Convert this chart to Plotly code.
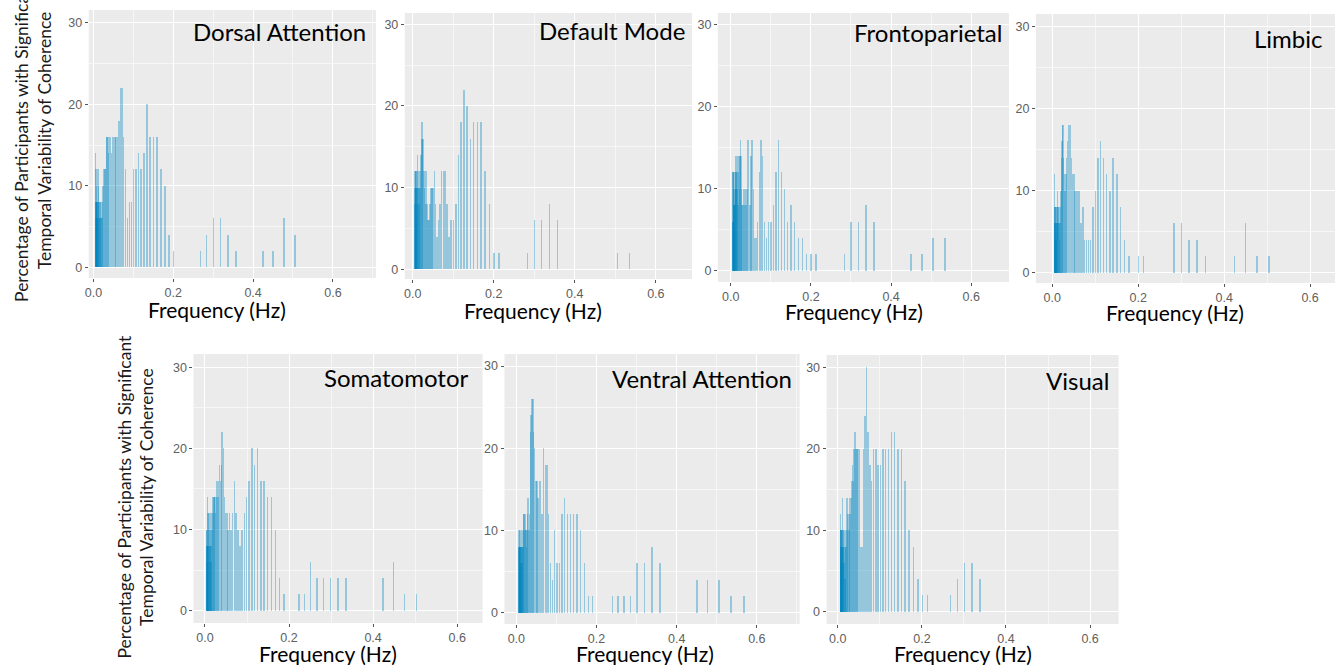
import plotly.graph_objects as go

W, H = 1339, 665

# Shared frequency grid (Hz)
freq_hz = [
    0.0050, 0.0053, 0.0056, 0.0059, 0.0063, 0.0066, 0.0070, 0.0074, 0.0079, 0.0084,
    0.0088, 0.0094, 0.0099, 0.0105, 0.0112, 0.0118, 0.0125, 0.0133, 0.0141, 0.0149,
    0.0158, 0.0167, 0.0177, 0.0188, 0.0199, 0.0211, 0.0223, 0.0236, 0.0250, 0.0265,
    0.0281, 0.0298, 0.0316, 0.0334, 0.0354, 0.0375, 0.0398, 0.0421, 0.0446, 0.0473,
    0.0501, 0.0531, 0.0562, 0.0596, 0.0631, 0.0669, 0.0708, 0.0750, 0.0795, 0.0842,
    0.0892, 0.0945, 0.1002, 0.1061, 0.1124, 0.1191, 0.1262, 0.1337, 0.1416, 0.1501,
    0.1590, 0.1684, 0.1784, 0.1891, 0.2003, 0.2122, 0.2248, 0.2382, 0.2523, 0.2673,
    0.2832, 0.3001, 0.3179, 0.3368, 0.3568, 0.3780, 0.4005, 0.4243, 0.4496, 0.4763,
    0.5046, 0.5346, 0.5664,
]

panel_names = ["Dorsal Attention", "Default Mode", "Frontoparietal", "Limbic",
               "Somatomotor", "Ventral Attention", "Visual"]

# Percentage of participants per frequency
dorsal_attention = [
    14, 8, 6, 8, 12, 8, 10, 8, 6, 8,
    6, 8, 6, 8, 12, 10, 8, 6, 8, 6,
    8, 6, 8, 6, 8, 6, 8, 10, 12, 12,
    12, 12, 16, 16, 16, 14, 16, 16, 14, 16,
    16, 16, 16, 16, 18, 22, 22, 16, 12, 6,
    8, 8, 12, 12, 14, 12, 14, 20, 16, 16,
    16, 12, 10, 4, 2, 0, 0, 0, 0, 2,
    4, 6, 6, 4, 2, 0, 0, 2, 2, 6,
    4, 0, 0,
]
default_mode = [
    12, 10, 8, 12, 6, 10, 8, 12, 10, 6,
    8, 10, 12, 10, 14, 10, 8, 10, 12, 10,
    8, 10, 12, 10, 14, 16, 18, 16, 16, 12,
    10, 12, 8, 12, 8, 6, 6, 8, 10, 10,
    10, 12, 8, 4, 6, 8, 12, 12, 12, 8,
    4, 6, 6, 8, 14, 18, 22, 20, 16, 18,
    18, 18, 12, 8, 2, 2, 0, 0, 0, 0,
    2, 6, 6, 8, 6, 0, 0, 0, 0, 0,
    2, 2, 0,
]
frontoparietal = [
    12, 6, 12, 6, 10, 8, 12, 8, 6, 8,
    10, 8, 12, 8, 10, 14, 12, 10, 14, 12,
    10, 14, 8, 12, 14, 10, 14, 16, 14, 10,
    8, 8, 10, 8, 10, 8, 10, 16, 16, 8,
    14, 16, 10, 4, 4, 6, 12, 16, 14, 6,
    4, 6, 6, 8, 12, 16, 12, 10, 6, 8,
    6, 4, 4, 2, 2, 2, 0, 0, 0, 0,
    2, 6, 6, 8, 6, 0, 0, 0, 2, 2,
    4, 4, 0,
]
limbic = [
    12, 6, 8, 4, 8, 6, 4, 6, 8, 4,
    6, 4, 6, 8, 6, 10, 8, 6, 8, 6,
    8, 4, 6, 8, 10, 14, 16, 18, 18, 14,
    12, 10, 12, 14, 16, 18, 18, 18, 14, 12,
    12, 10, 10, 10, 10, 6, 8, 4, 4, 4,
    4, 8, 10, 14, 16, 14, 12, 10, 14, 12,
    8, 4, 2, 0, 2, 2, 0, 0, 0, 0,
    6, 6, 4, 4, 2, 0, 0, 2, 6, 2,
    2, 0, 0,
]
somatomotor = [
    10, 8, 6, 10, 8, 14, 8, 6, 12, 8,
    6, 12, 10, 8, 12, 6, 8, 10, 12, 8,
    6, 10, 12, 10, 14, 12, 14, 14, 14, 12,
    16, 14, 16, 14, 18, 16, 18, 22, 20, 14,
    12, 12, 10, 12, 10, 12, 16, 12, 10, 8,
    10, 12, 14, 16, 20, 18, 20, 16, 16, 14,
    14, 10, 4, 2, 0, 0, 2, 2, 6, 4,
    4, 4, 4, 4, 0, 0, 0, 4, 6, 2,
    2, 0, 0,
]
ventral_attention = [
    8, 8, 10, 8, 8, 10, 8, 8, 6, 8,
    8, 10, 8, 6, 10, 8, 8, 6, 8, 10,
    8, 12, 12, 12, 10, 12, 10, 8, 10, 12,
    14, 10, 12, 22, 24, 26, 26, 22, 20, 16,
    16, 14, 16, 16, 12, 20, 18, 18, 12, 6,
    4, 10, 6, 6, 12, 14, 12, 12, 12, 12,
    10, 6, 2, 2, 0, 0, 0, 2, 2, 2,
    2, 6, 6, 8, 6, 0, 0, 0, 4, 4,
    4, 2, 2,
]
visual = [
    12, 10, 8, 10, 8, 10, 6, 8, 10, 8,
    6, 10, 8, 14, 10, 8, 10, 6, 8, 10,
    4, 8, 10, 8, 14, 10, 14, 12, 10, 14,
    12, 14, 16, 18, 16, 20, 22, 20, 20, 20,
    20, 8, 8, 20, 24, 30, 22, 18, 16, 20,
    20, 18, 18, 20, 20, 20, 22, 22, 20, 20,
    16, 10, 8, 4, 2, 2, 0, 0, 0, 2,
    4, 6, 6, 4, 0, 0, 0, 0, 0, 0,
    0, 0, 0,
]

x_ticks = [0, 0.2, 0.4, 0.6]
x_tick_labels = ["0.0", "0.2", "0.4", "0.6"]
y_ticks = [0, 10, 20, 30]
y_tick_labels = ["0", "10", "20", "30"]

series = [dorsal_attention, default_mode, frontoparietal, limbic,
          somatomotor, ventral_attention, visual]

# ---- layout (pixels) ----
boxes = [  # left, right, top, bottom
    (85, 373, 10, 278), (402, 690, 13, 279), (716, 1008, 13, 282), (1035, 1335, 14, 283),
    (190, 480, 354, 623), (502, 798, 354, 624), (825, 1118, 355, 624),
]
xr = [(-0.0117, 0.7077), (-0.0194, 0.689), (-0.032, 0.694), (-0.038, 0.658),
      (-0.0275, 0.6605), (-0.0296, 0.7067), (-0.0268, 0.668)]
yr = [(-1.31, 31.56), (-1.19, 31.38), (-1.38, 31.46), (-1.26, 31.55),
      (-1.52, 31.64), (-1.37, 31.46), (-1.51, 31.51)]
title_pos = [(365, 32), (685, 30), (1003, 33), (1325, 38), (468, 377), (792, 378), (1110, 380)]
xlab_pos = [(214, 309), (531, 310), (853, 311), (1175, 313), (325, 653), (643, 653), (962, 653)]

BAR_COLOR = "rgba(0,132,192,0.36)"
BG = "#EBEBEB"
TICK_FONT = dict(family="Liberation Sans, Arial, sans-serif", size=12.5, color="#606060")
TEXT_FONT = "Lato, Open Sans, sans-serif"

fig = go.Figure()
layout = dict(
    width=W, height=H, autosize=False,
    margin=dict(l=0, r=0, t=0, b=0),
    paper_bgcolor="white", plot_bgcolor=BG,
    barmode="overlay", bargap=0, showlegend=False,
)
annotations = []

for i, (name, vals) in enumerate(zip(panel_names, series)):
    n = i + 1
    sx = "" if n == 1 else str(n)
    l, r, t, b = boxes[i]
    fig.add_trace(go.Bar(
        x=freq_hz, y=vals, width=0.0036,
        marker=dict(color=BAR_COLOR, line=dict(width=0)),
        xaxis="x" + sx, yaxis="y" + sx, showlegend=False, hoverinfo="x+y",
    ))
    layout["xaxis" + sx] = dict(
        domain=[l / W, r / W], range=list(xr[i]), anchor="y" + sx,
        tickmode="array", tickvals=x_ticks, ticktext=x_tick_labels,
        showgrid=True, gridcolor="white", gridwidth=1.1, zeroline=False,
        showline=False, ticks="outside", ticklen=3, tickwidth=1, tickcolor="#555",
        tickfont=TICK_FONT, fixedrange=True,
        minor=dict(tickvals=[0.1, 0.3, 0.5, 0.7], showgrid=True,
                   gridcolor="rgba(255,255,255,0.55)", gridwidth=0.6),
    )
    layout["yaxis" + sx] = dict(
        domain=[1 - b / H, 1 - t / H], range=list(yr[i]), anchor="x" + sx,
        tickmode="array", tickvals=y_ticks, ticktext=y_tick_labels,
        showgrid=True, gridcolor="white", gridwidth=1.1, zeroline=False,
        showline=False, ticks="outside", ticklen=3, tickwidth=1, tickcolor="#555",
        tickfont=TICK_FONT, fixedrange=True,
        minor=dict(tickvals=[5, 15, 25], showgrid=True,
                   gridcolor="rgba(255,255,255,0.55)", gridwidth=0.6),
    )
    tx, ty = title_pos[i]
    annotations.append(dict(
        text=name, x=tx / W, y=1 - ty / H, xref="paper", yref="paper",
        xanchor="right", yanchor="middle", showarrow=False,
        font=dict(family=TEXT_FONT, size=24, color="black"),
    ))
    fx, fy = xlab_pos[i]
    annotations.append(dict(
        text="Frequency (Hz)", x=fx / W, y=1 - fy / H, xref="paper", yref="paper",
        xanchor="center", yanchor="middle", showarrow=False,
        font=dict(family=TEXT_FONT, size=21, color="black"),
    ))

ytitle = "Percentage of Participants with Significant<br>Temporal Variability of Coherence"
for (cx, cy) in [(29, 140), (132, 497)]:
    annotations.append(dict(
        text=ytitle, x=cx / W, y=1 - cy / H, xref="paper", yref="paper",
        xanchor="center", yanchor="middle", showarrow=False, textangle=-90,
        font=dict(family=TEXT_FONT, size=17.5, color="#1a1a1a"),
    ))

layout["annotations"] = annotations
fig.update_layout(**layout)
fig.write_html("out.html", config={"displayModeBar": False},
               post_script="document.body.style.margin='0px';")
